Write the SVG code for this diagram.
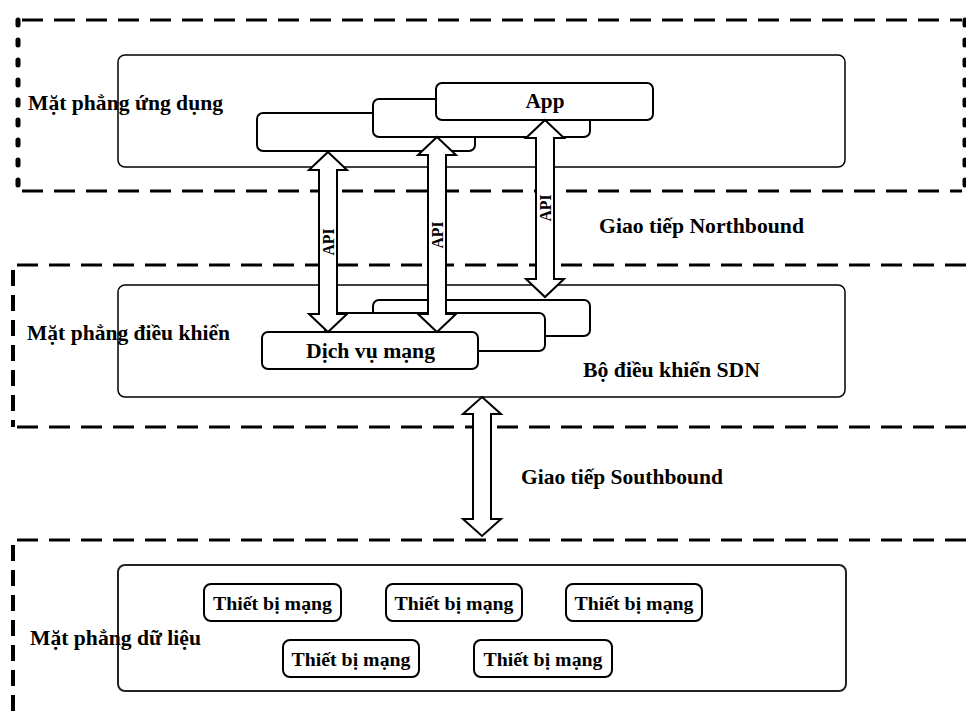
<svg xmlns="http://www.w3.org/2000/svg" width="966" height="716" viewBox="0 0 966 716">
<style>
text{font-family:"Liberation Serif","Times New Roman",serif;font-weight:bold;fill:#000}
.lbl{font-size:21px}
.dev{font-size:19.5px;text-anchor:middle}
.api{font-size:16px;text-anchor:middle}
.dh{fill:none;stroke:#000;stroke-width:3;stroke-dasharray:21 11}
.dv{fill:none;stroke:#000;stroke-width:5;stroke-linecap:round;stroke-dasharray:5 15}
.dv2{fill:none;stroke:#000;stroke-width:4;stroke-dasharray:16 9}
.plane{fill:#fff;stroke:#000;stroke-width:1.5}
.box{fill:#fff;stroke:#000;stroke-width:2}
.arr{fill:#fff;stroke:#000;stroke-width:2;stroke-linejoin:miter}
</style>

<g id="app-plane">
  <line class="dh" x1="22" y1="20" x2="962" y2="20"/>
  <line class="dh" x1="22" y1="191" x2="962" y2="191"/>
  <line class="dv" x1="18" y1="20" x2="18" y2="191"/>
  <line class="dv" x1="965" y1="20" x2="965" y2="191"/>
  <rect class="plane" x="118" y="55" width="727" height="112" rx="7"/>
  <text class="lbl" x="28" y="110" textLength="195" lengthAdjust="spacingAndGlyphs">Mặt phẳng ứng dụng</text>
</g>

<g id="app-boxes">
  <rect class="box" x="257" y="113" width="218" height="38" rx="6"/>
  <rect class="box" x="373" y="99" width="217" height="38" rx="6"/>
  <rect class="box" x="436" y="83" width="217" height="37" rx="6"/>
  <text class="lbl" x="545" y="108" text-anchor="middle" textLength="39" lengthAdjust="spacingAndGlyphs">App</text>
</g>

<g id="control-plane">
  <line class="dh" x1="17" y1="265" x2="966" y2="265"/>
  <line class="dh" x1="17" y1="427" x2="966" y2="427"/>
  <line class="dv2" x1="13" y1="270" x2="13" y2="427"/>
  <rect class="plane" x="118" y="285" width="727" height="112" rx="7"/>
  <text class="lbl" x="27" y="340" textLength="203" lengthAdjust="spacingAndGlyphs">Mặt phẳng điều khiển</text>
  <text class="lbl" x="583" y="377" textLength="177" lengthAdjust="spacingAndGlyphs">Bộ điều khiển SDN</text>
</g>

<g id="control-boxes">
  <rect class="box" x="373" y="300" width="217" height="36" rx="6"/>
  <rect class="box" x="325" y="313" width="220" height="38" rx="6"/>
  <rect class="box" x="262" y="332" width="216" height="37" rx="6"/>
  <text class="lbl" x="306" y="358" textLength="129" lengthAdjust="spacingAndGlyphs">Dịch vụ mạng</text>
</g>

<g id="data-plane">
  <line class="dh" x1="17" y1="540" x2="966" y2="540"/>
  <line class="dv2" x1="13" y1="545" x2="13" y2="716"/>
  <rect class="plane" x="118" y="565" width="728" height="126" rx="7" style="stroke:#222;stroke-width:2"/>
  <text class="lbl" x="30" y="645" textLength="171" lengthAdjust="spacingAndGlyphs">Mặt phẳng dữ liệu</text>
</g>

<g id="device-1">
  <rect class="box" x="204" y="584" width="137" height="37" rx="7"/>
  <text class="dev" x="272.5" y="610" textLength="119" lengthAdjust="spacingAndGlyphs">Thiết bị mạng</text>
</g>
<g id="device-2">
  <rect class="box" x="386" y="584" width="136" height="37" rx="7"/>
  <text class="dev" x="454" y="610" textLength="119" lengthAdjust="spacingAndGlyphs">Thiết bị mạng</text>
</g>
<g id="device-3">
  <rect class="box" x="566" y="584" width="136" height="37" rx="7"/>
  <text class="dev" x="634" y="610" textLength="119" lengthAdjust="spacingAndGlyphs">Thiết bị mạng</text>
</g>
<g id="device-4">
  <rect class="box" x="283" y="640" width="136" height="37" rx="7"/>
  <text class="dev" x="351" y="666" textLength="119" lengthAdjust="spacingAndGlyphs">Thiết bị mạng</text>
</g>
<g id="device-5">
  <rect class="box" x="474" y="640" width="138" height="37" rx="7"/>
  <text class="dev" x="543" y="666" textLength="119" lengthAdjust="spacingAndGlyphs">Thiết bị mạng</text>
</g>

<g id="connectors">
  <path class="arr" d="M328,152 L347,170 L337,170 L337,314 L347,314 L328,332 L309,314 L319,314 L319,170 L309,170 Z"/>
  <text class="api" transform="translate(328,242) rotate(-90)" y="5.5" textLength="27" lengthAdjust="spacingAndGlyphs">API</text>
  <path class="arr" d="M437,137 L456,155 L446,155 L446,314 L456,314 L437,332 L418,314 L428,314 L428,155 L418,155 Z"/>
  <text class="api" transform="translate(437,235) rotate(-90)" y="5.5" textLength="27" lengthAdjust="spacingAndGlyphs">API</text>
  <path class="arr" d="M545,120 L564,138 L554,138 L554,279 L564,279 L545,297 L526,279 L536,279 L536,138 L526,138 Z"/>
  <text class="api" transform="translate(545,208) rotate(-90)" y="5.5" textLength="27" lengthAdjust="spacingAndGlyphs">API</text>
  <path class="arr" d="M482,397 L501,414 L491,414 L491,519 L501,519 L482,536 L463,519 L473,519 L473,414 L463,414 Z"/>
</g>

<g id="interface-labels">
  <text class="lbl" x="599" y="233" textLength="205" lengthAdjust="spacingAndGlyphs">Giao tiếp Northbound</text>
  <text class="lbl" x="521" y="484" textLength="202" lengthAdjust="spacingAndGlyphs">Giao tiếp Southbound</text>
</g>
</svg>
